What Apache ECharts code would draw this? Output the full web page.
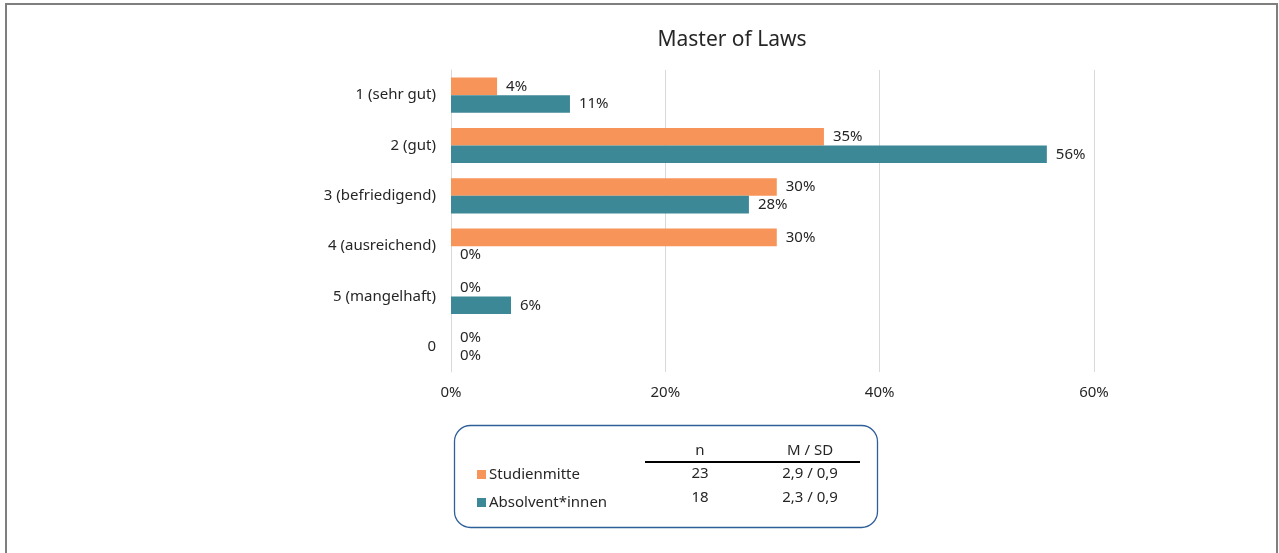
<!DOCTYPE html>
<html>
<head>
<meta charset="utf-8">
<script src="https://cdn.jsdelivr.net/npm/echarts@6/dist/echarts.min.js"></script>
<style>
  html, body { margin: 0; padding: 0; background: #fff; }
  #chart { width: 1279px; height: 553px; }
</style>
</head>
<body>
<div id="chart"></div>
<script>
// categories (top to bottom)
var categories = ["1 (sehr gut)", "2 (gut)", "3 (befriedigend)", "4 (ausreichend)", "5 (mangelhaft)", "0"];
// percentages per group
var studienmitte = [4.3, 34.8, 30.4, 30.4, 0, 0];
var absolventen = [11.1, 55.6, 27.8, 0, 5.6, 0];
var seriesNames = ["Studienmitte", "Absolvent*innen"];
// stats table
var tableHeader = ["n", "M / SD"];
var tableN = ["23", "18"];
var tableMSD = ["2,9 / 0,9", "2,3 / 0,9"];

var FONT = "Noto Sans";
var TXT = "#262626";
var chart = echarts.init(document.getElementById("chart"));

var graphics = [
  // outer frame
  { type: "rect", shape: { x: 6, y: 4, width: 1271, height: 570 },
    style: { fill: "none", stroke: "#7f7f7f", lineWidth: 2 }, silent: true },
  // stats box
  { type: "rect", shape: { x: 454.5, y: 425.5, width: 423, height: 102, r: 16 },
    style: { fill: "none", stroke: "#2f5f98", lineWidth: 1.3 }, silent: true },
  { type: "line", shape: { x1: 645, y1: 462, x2: 860, y2: 462 },
    style: { stroke: "#000", lineWidth: 2 }, silent: true }
];
var colX = [700, 810];
tableHeader.forEach(function (h, i) {
  graphics.push({ type: "text", x: colX[i], y: 451,
    style: { text: h, fill: TXT, font: "15px '" + FONT + "'", align: "center", verticalAlign: "middle" } });
});
[tableN, tableMSD].forEach(function (col, i) {
  col.forEach(function (v, r) {
    graphics.push({ type: "text", x: colX[i], y: 474 + r * 24,
      style: { text: v, fill: TXT, font: "15px '" + FONT + "'", align: "center", verticalAlign: "middle" } });
  });
});

function lbl(p) { return Math.round(p.value) + "%"; }

var option = {
  backgroundColor: "#fff",
  animation: false,
  textStyle: { fontFamily: FONT },
  title: {
    text: "Master of Laws",
    left: 727, top: 25, textAlign: "center",
    textStyle: { fontFamily: FONT, fontSize: 21, fontWeight: "normal", color: TXT }
  },
  legend: {
    data: seriesNames,
    orient: "vertical",
    left: 477, top: 467,
    icon: "rect", itemWidth: 9, itemHeight: 9, itemGap: 13,
    padding: 0,
    textStyle: { fontFamily: FONT, fontSize: 15, color: TXT, padding: [0, 0, 0, -2] }
  },
  grid: { left: 451, top: 70, width: 643, height: 302 },
  xAxis: {
    type: "value", min: 0, max: 60, interval: 20,
    axisLine: { show: false }, axisTick: { show: false },
    splitLine: { lineStyle: { color: "#d9d9d9", width: 1 } },
    axisLabel: { formatter: "{value}%", color: TXT, fontSize: 15, fontFamily: FONT, margin: 13 }
  },
  yAxis: {
    type: "category", data: categories, inverse: true,
    axisLine: { show: true, lineStyle: { color: "#d9d9d9" } },
    axisTick: { show: false },
    axisLabel: { color: TXT, fontSize: 15, fontFamily: FONT, margin: 15 }
  },
  series: [
    { name: seriesNames[0], type: "bar", data: studienmitte, barGap: "0%", barCategoryGap: "30%",
      itemStyle: { color: "#f79459" },
      label: { show: true, position: "right", distance: 9, formatter: lbl, color: TXT, fontSize: 15, fontFamily: FONT } },
    { name: seriesNames[1], type: "bar", data: absolventen, barGap: "0%", barCategoryGap: "30%",
      itemStyle: { color: "#3c8896" },
      label: { show: true, position: "right", distance: 9, formatter: lbl, color: TXT, fontSize: 15, fontFamily: FONT } }
  ],
  graphic: graphics
};
chart.setOption(option);
</script>
</body>
</html>
